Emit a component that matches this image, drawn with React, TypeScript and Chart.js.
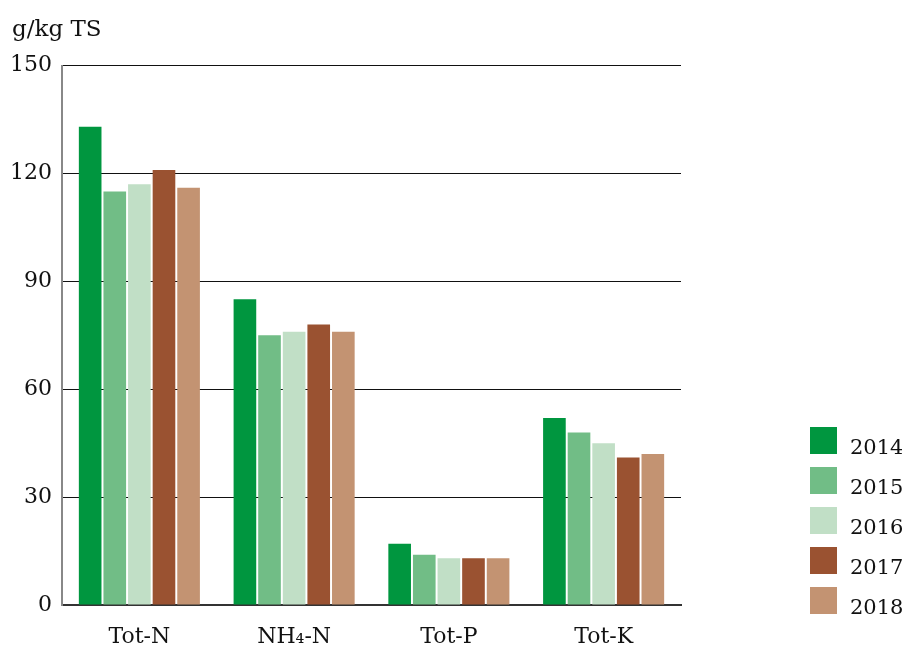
import React, { useEffect, useRef } from "react";
import { Chart, registerables } from "chart.js";

Chart.register(...registerables);

const categories = ["Tot-N", "NH₄-N", "Tot-P", "Tot-K"];
const years = ["2014", "2015", "2016", "2017", "2018"];
const values2014 = [133, 85, 17, 52];
const values2015 = [115, 75, 14, 48];
const values2016 = [117, 76, 13, 45];
const values2017 = [121, 78, 13, 41];
const values2018 = [116, 76, 13, 42];
const yearColors = ["#00963f", "#71bd86", "#c1dfc6", "#9a5231", "#c39372"];
const yTicks = [0, 30, 60, 90, 120, 150];

const FONT = "'DejaVu Serif', 'Liberation Serif', serif";

export default function App() {
  const canvasRef = useRef<HTMLCanvasElement | null>(null);

  useEffect(() => {
    if (!canvasRef.current) return;
    const series = [values2014, values2015, values2016, values2017, values2018];
    const chart = new Chart(canvasRef.current, {
      type: "bar",
      data: {
        labels: categories,
        datasets: years.map((y, i) => ({
          label: y,
          data: series[i],
          backgroundColor: yearColors[i],
          borderWidth: 0,
          categoryPercentage: 0.795,
          barPercentage: 0.92,
        })),
      },
      options: {
        animation: false,
        responsive: false,
        maintainAspectRatio: false,
        layout: { padding: { left: 4, right: 221, top: 0, bottom: 0 } },
        plugins: {
          legend: { display: false },
          tooltip: { enabled: false },
          title: {
            display: true,
            text: "g/kg TS",
            align: "start",
            color: "#111",
            font: { family: FONT, size: 23, weight: "normal" },
            padding: { top: 8, bottom: 22 },
          },
        },
        scales: {
          x: {
            grid: { display: false, drawTicks: false },
            border: { display: true, color: "#333", width: 2 },
            ticks: {
              color: "#111",
              padding: 19,
              font: { family: FONT, size: 22 },
            },
            afterFit: (s: any) => {
              s.height = 39;
            },
          },
          y: {
            min: 0,
            max: 150,
            afterBuildTicks: (s: any) => {
              s.ticks = yTicks.map((v) => ({ value: v }));
            },
            grid: { color: "#111", lineWidth: 1, drawTicks: false },
            border: { display: true, color: "#888", width: 2 },
            ticks: {
              color: "#111",
              padding: 10,
              font: { family: FONT, size: 22 },
            },
            afterFit: (s: any) => {
              s.width = 50;
            },
          },
        },
      },
    });
    return () => chart.destroy();
  }, []);

  return (
    <div style={{ position: "relative", width: 894, height: 636 }}>
      <canvas ref={canvasRef} width={894} height={636} />
      <div style={{ position: "absolute", left: 802, top: 419 }}>
        {years.map((y, i) => (
          <div
            key={y}
            style={{ display: "flex", alignItems: "flex-start", height: 40 }}
          >
            <div
              style={{
                width: 27,
                height: 27,
                background: yearColors[i],
                flex: "none",
              }}
            />
            <span
              style={{
                marginLeft: 13,
                fontFamily: FONT,
                fontSize: 21,
                lineHeight: "27px",
                marginTop: 7,
                color: "#111",
                whiteSpace: "nowrap",
              }}
            >
              {y}
            </span>
          </div>
        ))}
      </div>
    </div>
  );
}
